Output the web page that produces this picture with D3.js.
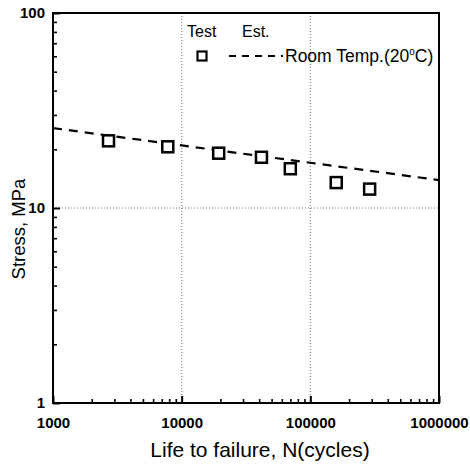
<!DOCTYPE html>
<html>
<head>
<meta charset="utf-8">
<script src="https://cdn.jsdelivr.net/npm/d3@7"></script>
<style>
  html, body { margin: 0; padding: 0; background: #fff; }
  svg { display: block; font-family: "Liberation Sans", Arial, sans-serif; }
</style>
</head>
<body>
<svg id="chart" width="470" height="466"></svg>
<script>
// ---- data ----
const testCycles = [2700, 7800, 19400, 41700, 69900, 159000, 289000];
const testStress = [22.1, 20.6, 19.1, 18.2, 15.9, 13.5, 12.5];
const estCycles = [1000, 1000000];
const estStress = [25.7, 13.9];
const xTickValues = [1000, 10000, 100000, 1000000];
const xTickLabels = ["1000", "10000", "100000", "1000000"];
const yTickValues = [1, 10, 100];
const yTickLabels = ["1", "10", "100"];
const xGridValues = [10000, 100000];
const yGridValues = [10];

// ---- layout ----
const pL = 53, pR = 439, pT = 13, pB = 403;
const svg = d3.select("#chart");
const x = d3.scaleLog().domain([1000, 1000000]).range([pL, pR]);
const y = d3.scaleLog().domain([1, 100]).range([pB, pT]);

// grid
svg.append("g").selectAll("line").data(xGridValues).join("line")
  .attr("x1", d => x(d)).attr("x2", d => x(d)).attr("y1", pT).attr("y2", pB)
  .attr("stroke", "#777").attr("stroke-width", 1).attr("stroke-dasharray", "1,2");
svg.append("g").selectAll("line").data(yGridValues).join("line")
  .attr("y1", d => y(d)).attr("y2", d => y(d)).attr("x1", pL).attr("x2", pR)
  .attr("stroke", "#777").attr("stroke-width", 1).attr("stroke-dasharray", "1,2");

// minor ticks
const xMinor = [];
for (let e = 3; e < 6; e++) for (let m = 2; m <= 9; m++) xMinor.push(m * Math.pow(10, e));
const yMinor = [];
for (let e = 0; e < 2; e++) for (let m = 2; m <= 9; m++) yMinor.push(m * Math.pow(10, e));

const xAxis = d3.axisBottom(x).tickValues(xTickValues).tickFormat((d, i) => xTickLabels[i])
  .tickSizeInner(-7).tickSizeOuter(0).tickPadding(14);
const gx = svg.append("g").attr("transform", `translate(0,${pB})`).call(xAxis);
gx.select(".domain").remove();
gx.selectAll("line").attr("stroke-width", 2);
gx.selectAll("text").attr("font-size", 15).attr("font-weight", "bold").attr("fill", "#000")
  .attr("font-family", "Liberation Sans, Arial, sans-serif");
const gxm = svg.append("g").attr("transform", `translate(0,${pB})`)
  .call(d3.axisBottom(x).tickValues(xMinor).tickSizeInner(-4).tickSizeOuter(0).tickFormat(""));
gxm.select(".domain").remove();
gxm.selectAll("line").attr("stroke-width", 1.6);

const yAxis = d3.axisLeft(y).tickValues(yTickValues).tickFormat((d, i) => yTickLabels[i])
  .tickSizeInner(-7).tickSizeOuter(0).tickPadding(8);
const gy = svg.append("g").attr("transform", `translate(${pL},0)`).call(yAxis);
gy.select(".domain").remove();
gy.selectAll("line").attr("stroke-width", 2);
gy.selectAll("text").attr("font-size", 15).attr("font-weight", "bold").attr("fill", "#000")
  .attr("font-family", "Liberation Sans, Arial, sans-serif");
const gym = svg.append("g").attr("transform", `translate(${pL},0)`)
  .call(d3.axisLeft(y).tickValues(yMinor).tickSizeInner(-4).tickSizeOuter(0).tickFormat(""));
gym.select(".domain").remove();
gym.selectAll("line").attr("stroke-width", 1.6);

// frame
svg.append("rect").attr("x", pL).attr("y", pT).attr("width", pR - pL).attr("height", pB - pT)
  .attr("fill", "none").attr("stroke", "#000").attr("stroke-width", 2);

// estimated line
const line = d3.line().x((d, i) => x(estCycles[i])).y(d => y(d));
svg.append("path").datum(estStress).attr("d", line)
  .attr("fill", "none").attr("stroke", "#000").attr("stroke-width", 2.2).attr("stroke-dasharray", "9,7");

// test points
const sq = 11;
svg.append("g").selectAll("rect").data(testStress).join("rect")
  .attr("x", (d, i) => x(testCycles[i]) - sq / 2).attr("y", d => y(d) - sq / 2)
  .attr("width", sq).attr("height", sq)
  .attr("fill", "#fff").attr("stroke", "#000").attr("stroke-width", 2.5);

// legend
const lg = svg.append("g").attr("font-size", 16).attr("fill", "#000");
lg.append("text").attr("x", 187).attr("y", 37).text("Test");
lg.append("text").attr("x", 242).attr("y", 37).text("Est.");
lg.append("rect").attr("x", 202 - 4.5).attr("y", 56 - 4.5).attr("width", 9).attr("height", 9)
  .attr("fill", "#fff").attr("stroke", "#000").attr("stroke-width", 2.2);
lg.append("line").attr("x1", 229).attr("x2", 283).attr("y1", 56).attr("y2", 56)
  .attr("stroke", "#000").attr("stroke-width", 2).attr("stroke-dasharray", "7,6");
const rt = lg.append("text").attr("x", 285).attr("y", 62).attr("font-size", 17.5);
rt.append("tspan").text("Room Temp.(20");
rt.append("tspan").attr("font-size", 10).attr("dy", -7).text("o");
rt.append("tspan").attr("dy", 7).text("C)");

// axis titles
svg.append("text").attr("x", 260).attr("y", 457).attr("text-anchor", "middle")
  .attr("font-size", 21).attr("fill", "#000").text("Life to failure, N(cycles)");
svg.append("text").attr("transform", `translate(25,229) rotate(-90)`).attr("text-anchor", "middle")
  .attr("font-size", 18.5).attr("fill", "#000").text("Stress, MPa");
</script>
</body>
</html>
